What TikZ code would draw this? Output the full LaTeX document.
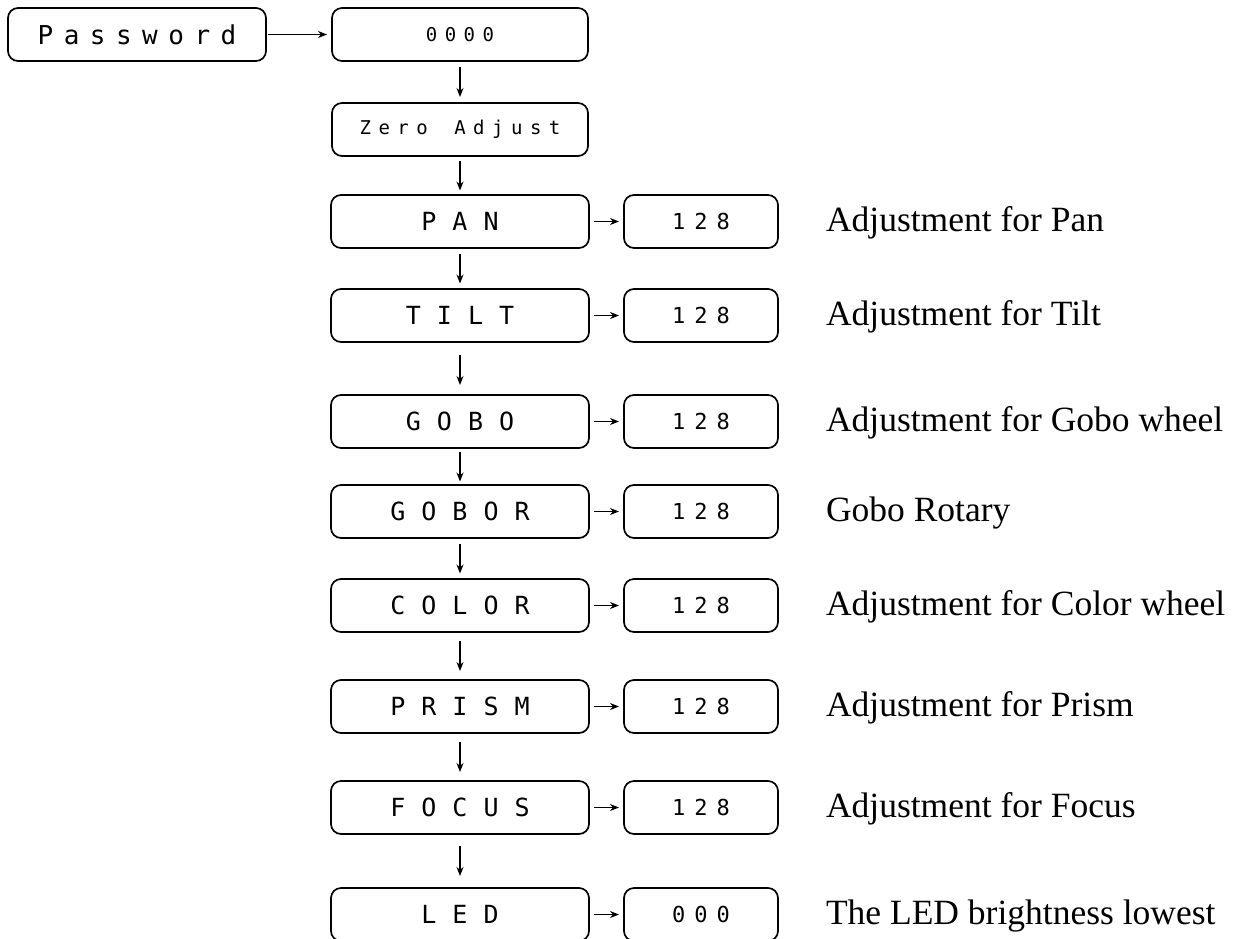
\documentclass[tikz,border=0pt]{standalone}
\usepackage{fontspec}
\setmainfont{Liberation Serif}
\newfontfamily\lcdfont{DejaVu Sans Mono}
\usetikzlibrary{arrows.meta,positioning}

\makeatletter
\newcommand\lcdspread[2]{\let\lcd@gap\@empty
  \@tfor\lcd@ch:=#2\do{\lcd@gap\lcd@ch\def\lcd@gap{\hspace{#1}}}}
\makeatother

\begin{document}
\begin{tikzpicture}[x=1pt, y=-1pt, inner sep=0pt, outer sep=0pt,
  >={Stealth[length=9pt,width=7pt]},
  box/.style={draw, rounded corners=10pt, line width=1.7pt, minimum height=53pt},
  menu/.style={box, minimum width=258pt, font={\lcdfont\fontsize{25pt}{30pt}\selectfont}},
  small/.style={box, minimum width=256pt, font={\lcdfont\fontsize{19pt}{22pt}\selectfont}},
  value/.style={box, minimum width=154pt, font={\lcdfont\fontsize{22pt}{26pt}\selectfont}},
  note/.style={anchor=west, text height=26pt, text depth=6pt, font={\fontsize{35.5pt}{40pt}\selectfont}},
  flow/.style={->, line width=1.1pt, shorten <=5pt, shorten >=5pt}]
\useasboundingbox (0,0) rectangle (1237,938);
\node[small](code) at (460,34.5) {\lcdspread{7.5pt}{0000}};
\node[box, minimum width=258pt, font={\lcdfont\fontsize{26pt}{30pt}\selectfont}](pass)[left = 66pt of code] {\lcdspread{10.5pt}{Password}};
\node[small](zero)[below = 42pt of code] {\lcdspread{7.5pt}{Zero~Adjust}};
\node[menu](pan)[below = 39pt of zero] {\lcdspread{16pt}{PAN}};
\node[menu](tilt)[below = 41pt of pan] {\lcdspread{16pt}{TILT}};
\node[menu](gobo)[below = 53pt of tilt] {\lcdspread{16pt}{GOBO}};
\node[menu](gobor)[below = 37pt of gobo] {\lcdspread{16pt}{GOBOR}};
\node[menu](color)[below = 41pt of gobor] {\lcdspread{16pt}{COLOR}};
\node[menu](prism)[below = 48pt of color] {\lcdspread{16pt}{PRISM}};
\node[menu](focus)[below = 48pt of prism] {\lcdspread{16pt}{FOCUS}};
\node[menu](led)[below = 54pt of focus] {\lcdspread{16pt}{LED}};
% values
\node[value](vpan)[right = 35pt of pan] {\lcdspread{9pt}{128}};
\node[value](vtilt)[right = 35pt of tilt] {\lcdspread{9pt}{128}};
\node[value](vgobo)[right = 35pt of gobo] {\lcdspread{9pt}{128}};
\node[value](vgobor)[right = 35pt of gobor] {\lcdspread{9pt}{128}};
\node[value](vcolor)[right = 35pt of color] {\lcdspread{9pt}{128}};
\node[value](vprism)[right = 35pt of prism] {\lcdspread{9pt}{128}};
\node[value](vfocus)[right = 35pt of focus] {\lcdspread{9pt}{128}};
\node[value](vled)[right = 35pt of led] {\lcdspread{9pt}{000}};
% notes
\node[note](npan)[right = 48pt of vpan] {Adjustment for Pan};
\node[note](ntilt)[right = 48pt of vtilt] {Adjustment for Tilt};
\node[note](ngobo)[right = 48pt of vgobo] {Adjustment for Gobo wheel};
\node[note](ngobor)[right = 48pt of vgobor] {Gobo Rotary};
\node[note](ncolor)[right = 48pt of vcolor] {Adjustment for Color wheel};
\node[note](nprism)[right = 48pt of vprism] {Adjustment for Prism};
\node[note](nfocus)[right = 48pt of vfocus] {Adjustment for Focus};
\node[note](nled)[right = 48pt of vled] {The LED brightness lowest};
\path[flow]
(pass) edge [shorten <=2pt] (code)
(code) edge [shorten <=6pt, shorten >=6pt] (zero)
(zero) edge [shorten <=4.5pt, shorten >=4.5pt] (pan)
(pan) edge [shorten <=5.5pt, shorten >=5.5pt] (tilt)
(tilt) edge [shorten <=13pt, shorten >=10pt] (gobo)
(gobo) edge [shorten <=3.5pt, shorten >=3.5pt] (gobor)
(gobor) edge [shorten <=5.5pt, shorten >=5.5pt] (color)
(color) edge [shorten <=9pt, shorten >=9pt] (prism)
(prism) edge [shorten <=9pt, shorten >=9pt] (focus)
(focus) edge [shorten <=12pt, shorten >=12pt] (led)
(pan) edge (vpan)
(tilt) edge (vtilt)
(gobo) edge (vgobo)
(gobor) edge (vgobor)
(color) edge (vcolor)
(prism) edge (vprism)
(focus) edge (vfocus)
(led) edge (vled)
;
\end{tikzpicture}
\end{document}
